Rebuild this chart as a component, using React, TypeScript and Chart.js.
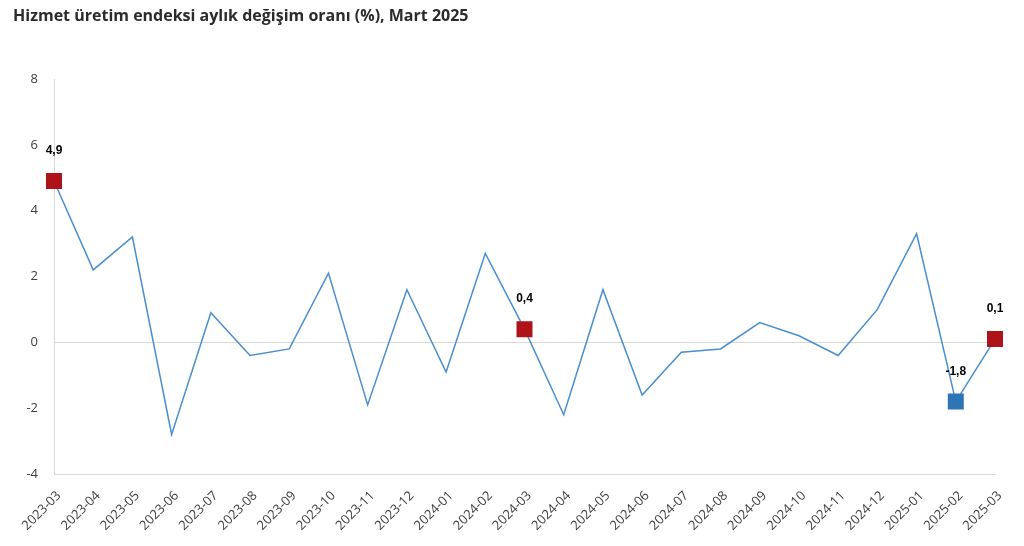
import React, { useEffect, useRef } from 'react';
import { Chart, registerables } from 'chart.js';

Chart.register(...registerables);

const chartTitle = 'Hizmet üretim endeksi aylık değişim oranı (%), Mart 2025';

const months = [
  '2023-03', '2023-04', '2023-05', '2023-06', '2023-07', '2023-08', '2023-09',
  '2023-10', '2023-11', '2023-12', '2024-01', '2024-02', '2024-03', '2024-04',
  '2024-05', '2024-06', '2024-07', '2024-08', '2024-09', '2024-10', '2024-11',
  '2024-12', '2025-01', '2025-02', '2025-03',
];

const values = [
  4.9, 2.2, 3.2, -2.8, 0.9, -0.4, -0.2,
  2.1, -1.9, 1.6, -0.9, 2.7, 0.4, -2.2,
  1.6, -1.6, -0.3, -0.2, 0.6, 0.2, -0.4,
  1.0, 3.3, -1.8, 0.1,
];

const redMonths = ['2023-03', '2024-03', '2025-03'];
const blueMonths = ['2025-02'];

const yMin = -4;
const yMax = 8;
const yStep = 2;

const LINE_COLOR = '#4a8fcf';
const RED = '#ad1319';
const BLUE = '#2e75b6';

export default function App() {
  const canvasRef = useRef<HTMLCanvasElement | null>(null);

  useEffect(() => {
    const canvas = canvasRef.current;
    if (!canvas) return;

    const isMarked = (i: number) =>
      redMonths.includes(months[i]) || blueMonths.includes(months[i]);

    const titlePlugin = {
      id: 'customTitle',
      afterDraw(chart: any) {
        const ctx = chart.ctx;
        ctx.save();
        ctx.font = 'bold 16px "Open Sans", sans-serif';
        ctx.fillStyle = '#2b2b2b';
        ctx.textAlign = 'left';
        ctx.textBaseline = 'alphabetic';
        ctx.fillText(chartTitle, 13, 21);
        ctx.restore();
      },
    };

    const labelPlugin = {
      id: 'pointLabels',
      afterDatasetsDraw(chart: any) {
        const ctx = chart.ctx;
        const meta = chart.getDatasetMeta(0);
        ctx.save();
        ctx.font = 'bold 12px "Liberation Sans", Arial, sans-serif';
        ctx.fillStyle = '#000000';
        ctx.textAlign = 'center';
        ctx.textBaseline = 'middle';
        meta.data.forEach((pt: any, i: number) => {
          if (!isMarked(i)) return;
          const txt = values[i].toFixed(1).replace('.', ',');
          ctx.fillText(txt, pt.x, pt.y - 30);
        });
        ctx.restore();
      },
    };

    const chart = new Chart(canvas, {
      type: 'line',
      data: {
        labels: months,
        datasets: [
          {
            data: values,
            borderColor: LINE_COLOR,
            borderWidth: 1.5,
            tension: 0,
            fill: false,
            pointStyle: 'rect',
            pointRadius: months.map((_, i) => (isMarked(i) ? 11.3 : 0)),
            pointHoverRadius: months.map((_, i) => (isMarked(i) ? 11.3 : 0)),
            pointBackgroundColor: months.map((m) => (blueMonths.includes(m) ? BLUE : RED)),
            pointBorderColor: months.map((m) => (blueMonths.includes(m) ? BLUE : RED)),
            pointBorderWidth: 0,
          },
        ],
      },
      options: {
        responsive: false,
        animation: false,
        events: [],
        layout: { padding: { top: 79, right: 29, bottom: 0, left: 0 } },
        plugins: {
          legend: { display: false },
          tooltip: { enabled: false },
          title: { display: false },
        },
        scales: {
          x: {
            type: 'category',
            offset: false,
            grid: { display: false, drawTicks: false },
            border: { display: true, color: '#d9d9d9', width: 1 },
            ticks: {
              autoSkip: false,
              maxRotation: 45,
              minRotation: 45,
              padding: 14,
              labelOffset: 5,
              color: '#404040',
              font: { family: '"Open Sans", sans-serif', size: 13 },
            },
            afterFit(scale: any) {
              scale.height = 72;
            },
          },
          y: {
            min: yMin,
            max: yMax,
            grid: {
              drawTicks: false,
              color: (c: any) => (c.tick && c.tick.value === 0 ? '#d9d9d9' : 'rgba(0,0,0,0)'),
              lineWidth: 1,
            },
            border: { display: true, color: '#d9d9d9', width: 1 },
            ticks: {
              stepSize: yStep,
              padding: 16,
              color: '#404040',
              font: { family: '"Open Sans", sans-serif', size: 13 },
            },
            afterFit(scale: any) {
              scale.width = 54;
            },
          },
        },
      },
      plugins: [titlePlugin, labelPlugin],
    });

    return () => chart.destroy();
  }, []);

  return (
    <div style={{ position: 'absolute', left: 0, top: 0, width: 1024, height: 546, background: '#ffffff' }}>
      <canvas ref={canvasRef} width={1024} height={546} />
    </div>
  );
}
